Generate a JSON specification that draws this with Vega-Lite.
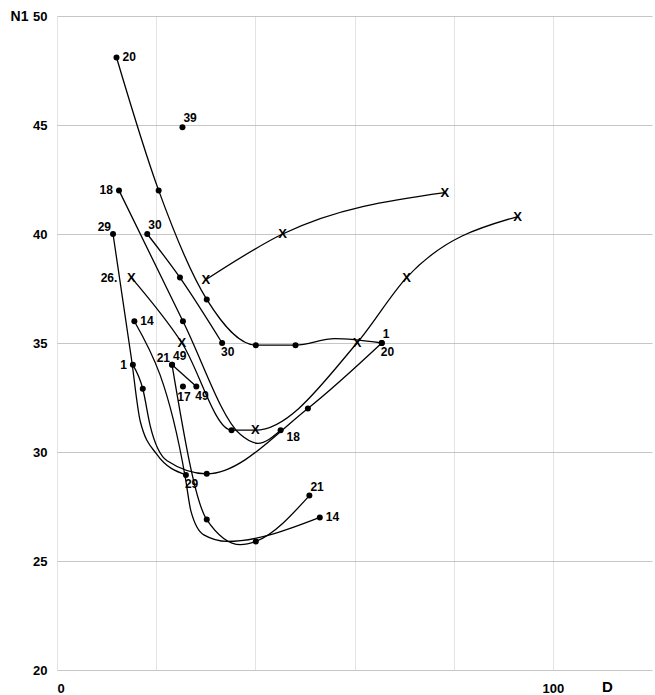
{
  "$schema": "https://vega.github.io/schema/vega-lite/v6.json",
  "width": 595,
  "height": 654,
  "autosize": {"type": "none"},
  "padding": {"left": 57, "top": 16, "right": 3, "bottom": 25},
  "background": "white",
  "config": {
    "view": {"stroke": null},
    "font": "Liberation Sans, Arial, sans-serif"
  },
  "data": {
    "values": [
      {"s": "20", "i": 0, "D": 12, "N1": 48.1, "m": "dot", "lab": "20", "side": "r"},
      {"s": "20", "i": 1, "D": 20.5, "N1": 42, "m": "dot"},
      {"s": "20", "i": 2, "D": 30.2, "N1": 37, "m": "dot"},
      {"s": "20", "i": 3, "D": 40.1, "N1": 34.9, "m": "dot"},
      {"s": "20", "i": 4, "D": 48.1, "N1": 34.9, "m": "dot"},
      {"s": "20", "i": 5, "D": 56, "N1": 35.2, "m": "none"},
      {"s": "20", "i": 6, "D": 65.5, "N1": 35, "m": "dot", "lab": "20", "side": "rb"},
      {"s": "30", "i": 0, "D": 18.2, "N1": 40, "m": "dot", "lab": "30", "side": "ra"},
      {"s": "30", "i": 1, "D": 24.8, "N1": 38, "m": "dot"},
      {"s": "30", "i": 2, "D": 33.3, "N1": 35, "m": "dot", "lab": "30", "side": "rb"},
      {"s": "18", "i": 0, "D": 12.5, "N1": 42, "m": "dot", "lab": "18", "side": "l"},
      {"s": "18", "i": 1, "D": 25.4, "N1": 36, "m": "dot"},
      {"s": "18", "i": 2, "D": 37, "N1": 30.8, "m": "none"},
      {"s": "18", "i": 3, "D": 40.5, "N1": 30.4, "m": "none"},
      {"s": "18", "i": 4, "D": 45.1, "N1": 31, "m": "dot", "lab": "18", "side": "br"},
      {"s": "26", "i": 0, "D": 15, "N1": 38, "m": "x", "lab": "26.", "side": "lx"},
      {"s": "26", "i": 1, "D": 25.2, "N1": 35, "m": "x"},
      {"s": "26", "i": 2, "D": 35.2, "N1": 31, "m": "dot"},
      {"s": "26", "i": 3, "D": 40, "N1": 31, "m": "x"},
      {"s": "26", "i": 4, "D": 60.5, "N1": 35, "m": "x"},
      {"s": "26", "i": 5, "D": 70.5, "N1": 38, "m": "x"},
      {"s": "26", "i": 6, "D": 92.9, "N1": 40.8, "m": "x"},
      {"s": "T", "i": 0, "D": 30, "N1": 37.9, "m": "x"},
      {"s": "T", "i": 1, "D": 45.5, "N1": 40, "m": "x"},
      {"s": "T", "i": 2, "D": 78.2, "N1": 41.9, "m": "x"},
      {"s": "1", "i": 0, "D": 15.3, "N1": 34, "m": "dot", "lab": "1", "side": "l"},
      {"s": "1", "i": 1, "D": 17.3, "N1": 32.9, "m": "dot"},
      {"s": "1", "i": 2, "D": 18.8, "N1": 31.2, "m": "none"},
      {"s": "1", "i": 3, "D": 22.2, "N1": 29.6, "m": "none"},
      {"s": "1", "i": 4, "D": 30.2, "N1": 29, "m": "dot"},
      {"s": "1", "i": 5, "D": 50.6, "N1": 32, "m": "dot"},
      {"s": "1", "i": 6, "D": 65.5, "N1": 35, "m": "dot", "lab": "1", "side": "ra"},
      {"s": "29", "i": 0, "D": 11.3, "N1": 40, "m": "dot", "lab": "29", "side": "la"},
      {"s": "29", "i": 1, "D": 15, "N1": 34.3, "m": "none"},
      {"s": "29", "i": 2, "D": 16.8, "N1": 31.4, "m": "none"},
      {"s": "29", "i": 3, "D": 20.1, "N1": 29.9, "m": "none"},
      {"s": "29", "i": 4, "D": 26, "N1": 28.95, "m": "dot", "lab": "29", "side": "rb"},
      {"s": "14", "i": 0, "D": 15.6, "N1": 36, "m": "dot", "lab": "14", "side": "r"},
      {"s": "14", "i": 1, "D": 25.9, "N1": 28.8, "m": "none"},
      {"s": "14", "i": 2, "D": 27, "N1": 27.3, "m": "none"},
      {"s": "14", "i": 3, "D": 29.6, "N1": 26.2, "m": "none"},
      {"s": "14", "i": 4, "D": 34.3, "N1": 25.9, "m": "none"},
      {"s": "14", "i": 5, "D": 53, "N1": 27, "m": "dot", "lab": "14", "side": "r"},
      {"s": "21", "i": 0, "D": 23.2, "N1": 34, "m": "dot", "lab": "21", "side": "la"},
      {"s": "21", "i": 1, "D": 30.2, "N1": 26.9, "m": "dot"},
      {"s": "21", "i": 2, "D": 37, "N1": 25.75, "m": "none"},
      {"s": "21", "i": 3, "D": 40.1, "N1": 25.9, "m": "dot"},
      {"s": "21", "i": 4, "D": 50.9, "N1": 28, "m": "dot", "lab": "21", "side": "ra"},
      {"s": "49", "i": 0, "D": 23.2, "N1": 34, "m": "dot", "lab": "49", "side": "ra"},
      {"s": "49", "i": 1, "D": 28.1, "N1": 33, "m": "dot", "lab": "49", "side": "rb"},
      {"s": "17", "i": 0, "D": 25.4, "N1": 33, "m": "dot", "lab": "17", "side": "lb"},
      {"s": "39", "i": 0, "D": 25.3, "N1": 44.9, "m": "dot", "lab": "39", "side": "ra"}
    ]
  },
  "encoding": {
    "x": {
      "field": "D", "type": "quantitative",
      "scale": {"domain": [0, 120], "nice": false, "zero": false},
      "axis": {
        "values": [0, 20, 40, 60, 80, 100],
        "labelExpr": "datum.value == 0 || datum.value == 100 ? datum.label : ''",
        "title": "D", "titleX": 550, "titleY": 16, "titleAlign": "center", "titleBaseline": "middle",
        "titleFontSize": 15, "titleFontWeight": "bold", "titleColor": "black",
        "labelFontSize": 13, "labelFontWeight": "bold", "labelColor": "black", "labelPadding": 12,
        "domain": false, "ticks": false, "gridColor": "#dcdcdc", "gridWidth": 0.8
      }
    },
    "y": {
      "field": "N1", "type": "quantitative",
      "scale": {"domain": [20, 50], "nice": false, "zero": false},
      "axis": {
        "values": [20, 25, 30, 35, 40, 45, 50],
        "title": "N1", "titleAngle": 0, "titleX": -38, "titleY": 0, "titleAlign": "center", "titleBaseline": "middle",
        "titleFontSize": 14, "titleFontWeight": "bold", "titleColor": "black",
        "labelFontSize": 13, "labelFontWeight": "bold", "labelColor": "black", "labelPadding": 10,
        "domain": false, "ticks": false, "gridColor": "#b8b8b8", "gridWidth": 0.8
      }
    }
  },
  "layer": [
    {
      "mark": {"type": "line", "interpolate": "monotone", "color": "black", "strokeWidth": 1.3},
      "encoding": {"detail": {"field": "s"}, "order": {"field": "i"}}
    },
    {
      "transform": [{"filter": "datum.m == 'dot'"}],
      "mark": {"type": "circle", "color": "black", "size": 36, "opacity": 1}
    },
    {
      "transform": [{"filter": "datum.m == 'x'"}],
      "mark": {"type": "text", "text": "X", "fontWeight": "bold", "fontSize": 13, "color": "black", "align": "center", "baseline": "middle"}
    },
    {
      "transform": [{"filter": "datum.side == 'r'"}],
      "mark": {"type": "text", "fontWeight": "bold", "fontSize": 12, "color": "black", "align": "left", "baseline": "middle", "dx": 6},
      "encoding": {"text": {"field": "lab"}}
    },
    {
      "transform": [{"filter": "datum.side == 'l'"}],
      "mark": {"type": "text", "fontWeight": "bold", "fontSize": 12, "color": "black", "align": "right", "baseline": "middle", "dx": -6},
      "encoding": {"text": {"field": "lab"}}
    },
    {
      "transform": [{"filter": "datum.side == 'lx'"}],
      "mark": {"type": "text", "fontWeight": "bold", "fontSize": 12, "color": "black", "align": "right", "baseline": "middle", "dx": -14},
      "encoding": {"text": {"field": "lab"}}
    },
    {
      "transform": [{"filter": "datum.side == 'la'"}],
      "mark": {"type": "text", "fontWeight": "bold", "fontSize": 12, "color": "black", "align": "right", "baseline": "middle", "dx": -2, "dy": -7},
      "encoding": {"text": {"field": "lab"}}
    },
    {
      "transform": [{"filter": "datum.side == 'ra'"}],
      "mark": {"type": "text", "fontWeight": "bold", "fontSize": 12, "color": "black", "align": "left", "baseline": "middle", "dx": 1, "dy": -9},
      "encoding": {"text": {"field": "lab"}}
    },
    {
      "transform": [{"filter": "datum.side == 'rb'"}],
      "mark": {"type": "text", "fontWeight": "bold", "fontSize": 12, "color": "black", "align": "left", "baseline": "middle", "dx": -1, "dy": 9},
      "encoding": {"text": {"field": "lab"}}
    },
    {
      "transform": [{"filter": "datum.side == 'lb'"}],
      "mark": {"type": "text", "fontWeight": "bold", "fontSize": 12, "color": "black", "align": "center", "baseline": "middle", "dx": 1, "dy": 10},
      "encoding": {"text": {"field": "lab"}}
    },
    {
      "transform": [{"filter": "datum.side == 'br'"}],
      "mark": {"type": "text", "fontWeight": "bold", "fontSize": 12, "color": "black", "align": "left", "baseline": "middle", "dx": 6, "dy": 7},
      "encoding": {"text": {"field": "lab"}}
    }
  ]
}
